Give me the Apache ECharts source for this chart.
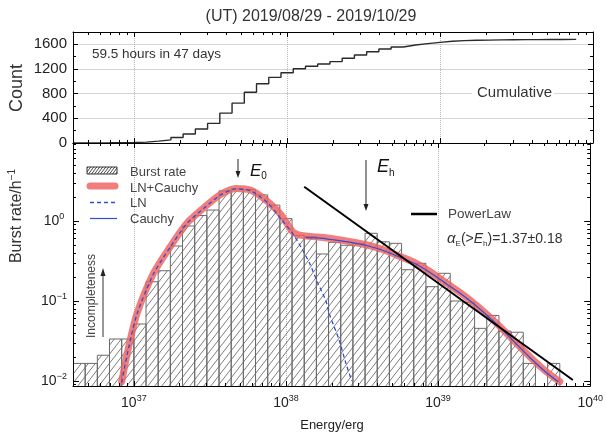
<!DOCTYPE html>
<html><head><meta charset="utf-8">
<script src="https://cdn.jsdelivr.net/npm/echarts@6/dist/echarts.min.js"></script>
<style>html,body{margin:0;padding:0;background:#fff}#c{width:606px;height:434px}</style>
</head><body><div id="c"></div>
<script>
// ---------------- data ----------------
const binEdgesLogE = [36.60,36.68,36.76,36.84,36.92,37.00,37.08,37.16,37.24,37.32,37.40,37.48,37.56,37.64,37.72,37.80,37.88,37.96,38.04,38.12,38.20,38.28,38.36,38.44,38.52,38.60,38.68,38.76,38.84,38.92,39.00,39.08,39.16,39.24,39.32,39.40,39.48,39.56,39.64,39.72,39.80];
const burstRate = [0.0166,0.0166,0.021,0.0335,0.0335, 0.0516,0.174,0.239,0.487,0.866,1.17,1.37,2.38,2.53,2.47, 2.12,1.58,1.07,0.66,0.64,0.387,0.542,0.497,0.526,0.702, 0.55,0.526,0.246,0.296,0.151,0.222,0.100,0.096,0.0455,0.066, 0.042,0.0407,0.0166,null,0.0166];
const cumulativeCount = [1,2,3,5,7, 15,30,50,88,145,226,318,485,646,824, 960,1065,1140,1205,1245,1282,1320,1374,1427,1480, 1524,1557,1589,1611,1632,1650,1660,1666,1669,1672, 1674,1676,1677,1678,1679];
const cumTailLogE = [39.80, 39.89];
const cumTailCount = [1680, 1680];

const lnCauchyLogE = [36.92,36.966,37.021,37.129,37.239,37.348,37.456,37.565,37.67,37.77,37.881,37.969,38.044,38.10,38.21,38.317,38.426,38.535,38.644,38.753,38.85,38.949,39.058,39.167,39.276,39.384,39.493,39.603,39.711,39.80];
const lnCauchyRate = [0.0098,0.0268,0.070,0.222,0.477,0.936,1.44,2.11,2.55,2.42,1.74,1.19,0.735,0.66,0.63,0.596,0.551,0.501,0.434,0.358,0.30,0.232,0.166,0.119,0.081,0.0526,0.0326,0.0201,0.0131,0.0098];
const lnLogE = [36.92,36.966,37.021,37.129,37.239,37.348,37.456,37.565,37.67,37.77,37.881,37.969,38.044,38.099,38.154,38.208,38.263,38.284,38.349,38.394,38.433];
const lnRate = [0.0096,0.0262,0.069,0.218,0.47,0.925,1.42,2.08,2.52,2.38,1.68,1.05,0.70,0.47,0.30,0.17,0.10,0.07,0.0326,0.0166,0.0100];
const cauchyLogE = [38.13,38.21,38.317,38.426,38.535,38.644,38.753,38.85,38.949,39.058,39.167,39.276,39.384,39.493,39.603,39.711,39.79];
const cauchyRate = [0.62,0.615,0.58,0.54,0.49,0.425,0.35,0.292,0.226,0.162,0.116,0.079,0.0515,0.032,0.0197,0.0128,0.0098];
const powerLawLogE = [38.12, 39.886];
const powerLawRate = [2.68, 0.0103];

const xMajor = [37, 38, 39];
const xTickExponents = [37, 38, 39, 40];
const yTickExponents = [-2, -1, 0];
const countTickLabels = [0, 400, 800, 1200, 1600];
const countGridValues = [400, 800, 1200, 1600];
const countMinorTicks = [200, 600, 1000, 1400];

// ---------------- layout constants ----------------
const FONT = '"Liberation Sans", Arial, Helvetica, sans-serif';
const X_MIN = 36.6, X_MAX = 40;
const Y_LOG_MIN = -2.0625, Y_LOG_MAX = 0.975;
const C_MAX = 1800;

const xMinor = [];
for (let d = 36; d <= 39; d++) for (let m = 2; m <= 9; m++) { const v = d + Math.log10(m); if (v > X_MIN && v < X_MAX) xMinor.push(v); }
const yMinor = [];
for (let d = -3; d <= 0; d++) for (let m = 2; m <= 9; m++) { const v = d + Math.log10(m); if (v > Y_LOG_MIN && v < Y_LOG_MAX) yMinor.push(v); }

function makeHatch(w, h, color, lw) {
  const c = document.createElement('canvas'); c.width = w; c.height = h;
  const g = c.getContext('2d');
  g.strokeStyle = color; g.lineWidth = lw;
  g.beginPath();
  g.moveTo(-w, h); g.lineTo(0, 0);
  g.moveTo(0, h); g.lineTo(w, 0);
  g.moveTo(w, h); g.lineTo(2 * w, 0);
  g.stroke();
  return c;
}
const hatch = {image: makeHatch(7, 9, '#5c5c5c', 0.8), repeat: 'repeat'};
const hatchDense = {image: makeHatch(3, 4, '#333', 0.9), repeat: 'repeat'};

// ---------------- series data ----------------
const barData = [];
burstRate.forEach((r, i) => { if (r != null) barData.push([binEdgesLogE[i], binEdgesLogE[i + 1], Math.log10(r)]); });
const cumData = cumulativeCount.map((c, i) => [binEdgesLogE[i], c]).concat(cumTailLogE.map((x, i) => [x, cumTailCount[i]]));
const toLog = (xs, ys) => xs.map((x, i) => [x, Math.log10(ys[i])]);

// ---------------- axes ----------------
function ax(o) {
  return Object.assign({
    type: 'value', z: 5,
    axisLine: {show: false, onZero: false},
    axisTick: {show: false},
    axisLabel: {show: false},
    splitLine: {show: false}
  }, o);
}
const frame = {show: true, onZero: false, lineStyle: {color: '#000', width: 1}};
const ticks = (values, len) => ({show: true, inside: true, length: len, customValues: values, lineStyle: {color: '#000', width: 1}});
const xr = {min: X_MIN, max: X_MAX};
const yr0 = {min: 0, max: C_MAX};
const yr1 = {min: Y_LOG_MIN, max: Y_LOG_MAX};
const supRich = {
  b: {fontSize: 14, lineHeight: 18, color: '#222', fontFamily: FONT},
  s: {fontSize: 9, lineHeight: 8, verticalAlign: 'top', color: '#222', fontFamily: FONT}
};

const xAxis = [
  ax(Object.assign({gridIndex: 0, position: 'bottom', axisLine: frame, axisTick: ticks(xMajor, 5)}, xr)),
  ax(Object.assign({gridIndex: 0, position: 'bottom', axisTick: ticks(xMinor, 3)}, xr)),
  ax(Object.assign({gridIndex: 0, position: 'top', axisLine: frame, axisTick: ticks(xMajor, 5)}, xr)),
  ax(Object.assign({gridIndex: 0, position: 'top', axisTick: ticks(xMinor, 3)}, xr)),
  ax(Object.assign({gridIndex: 0, position: 'bottom', z: 0, axisTick: {show: false, customValues: xMajor},
    splitLine: {show: true, lineStyle: {color: '#b5b5b5', type: 'dotted', width: 1}}}, xr)),
  ax(Object.assign({gridIndex: 1, position: 'bottom', axisLine: frame, axisTick: ticks(xMajor, 5),
    axisLabel: {show: true, customValues: xTickExponents, margin: 8,
      formatter: v => '{b|10}{s|' + v + '}', rich: supRich}}, xr)),
  ax(Object.assign({gridIndex: 1, position: 'bottom', axisTick: ticks(xMinor, 3)}, xr)),
  ax(Object.assign({gridIndex: 1, position: 'top', axisLine: frame, axisTick: ticks(xMajor, 5)}, xr)),
  ax(Object.assign({gridIndex: 1, position: 'top', axisTick: ticks(xMinor, 3)}, xr)),
  ax(Object.assign({gridIndex: 1, position: 'bottom', z: 0, axisTick: {show: false, customValues: xMajor},
    splitLine: {show: true, lineStyle: {color: '#b5b5b5', type: 'dotted', width: 1}}}, xr))
];
const yAxis = [
  ax(Object.assign({gridIndex: 0, position: 'left', axisLine: frame, axisTick: ticks(countGridValues, 5),
    axisLabel: {show: true, customValues: countTickLabels, margin: 6, fontSize: 15, color: '#222', fontFamily: FONT,
      formatter: v => String(v)}}, yr0)),
  ax(Object.assign({gridIndex: 0, position: 'left', axisTick: ticks(countMinorTicks, 3)}, yr0)),
  ax(Object.assign({gridIndex: 0, position: 'right', axisLine: frame, axisTick: ticks(countGridValues, 5)}, yr0)),
  ax(Object.assign({gridIndex: 0, position: 'right', axisTick: ticks(countMinorTicks, 3)}, yr0)),
  ax(Object.assign({gridIndex: 0, position: 'left', z: 0, axisTick: {show: false, customValues: countGridValues},
    splitLine: {show: true, lineStyle: {color: '#d6d6d6', width: 1}}}, yr0)),
  ax(Object.assign({gridIndex: 1, position: 'left', axisLine: frame, axisTick: ticks(yTickExponents, 6),
    axisLabel: {show: true, customValues: yTickExponents, margin: 19, align: 'center',
      formatter: v => '{b|10}{s|' + (v < 0 ? '\u2212' + (-v) : v) + '}', rich: supRich}}, yr1)),
  ax(Object.assign({gridIndex: 1, position: 'left', axisTick: ticks(yMinor, 3)}, yr1)),
  ax(Object.assign({gridIndex: 1, position: 'right', axisLine: frame, axisTick: ticks(yTickExponents, 6)}, yr1)),
  ax(Object.assign({gridIndex: 1, position: 'right', axisTick: ticks(yMinor, 3)}, yr1))
];

// ---------------- graphics (annotations, legend) ----------------
function txt(text, x, y, style, extra) {
  return Object.assign({type: 'text', z: 100, x: x, y: y, silent: true,
    style: Object.assign({legacy: false, text: text, fontSize: 13, fontFamily: FONT, fill: '#333', align: 'left', verticalAlign: 'middle'}, style || {})}, extra || {});
}
function seg(x1, y1, x2, y2, style) {
  return {type: 'line', z: 100, silent: true, shape: {x1, y1, x2, y2}, style: Object.assign({stroke: '#222', lineWidth: 1}, style || {})};
}
function head(points) {
  return {type: 'polygon', z: 100, silent: true, shape: {points}, style: {fill: '#222'}};
}
const RED = 'rgba(238,96,96,0.82)';
const BLUE = '#2f4fd0';
const graphic = [
  txt('(UT) 2019/08/29 - 2019/10/29', 311, 17, {fontSize: 16, align: 'center', fill: '#333'}),
  txt('Count', 17, 88, {fontSize: 18, align: 'center', fill: '#333'}, {rotation: Math.PI / 2}),
  txt('{a|Burst rate/h}{s|\u22121}', 17, 216, {align: 'center', rich: {
    a: {fontSize: 16, lineHeight: 20, fontFamily: FONT, fill: '#333'},
    s: {fontSize: 10, lineHeight: 10, verticalAlign: 'top', fontFamily: FONT, fill: '#333'}}}, {rotation: Math.PI / 2}),
  txt('Energy/erg', 332, 425, {fontSize: 13, align: 'center', fill: '#222'}),
  txt('59.5 hours in 47 days', 92, 54, {fontSize: 13.5, fill: '#333'}),
  txt('Cumulative', 472, 93, {fontSize: 15, fill: '#333', backgroundColor: '#fff', padding: [2, 2, 2, 5]}),
  // legend (left)
  {type: 'rect', z: 100, silent: true, shape: {x: 87, y: 167, width: 30, height: 7}, style: {fill: hatchDense, stroke: '#333', lineWidth: 1}},
  txt('Burst rate', 130, 172, {fill: '#444'}),
  seg(90, 186, 115, 186, {stroke: RED, lineWidth: 7, lineCap: 'round'}),
  txt('LN+Cauchy', 130, 188, {fill: '#444'}),
  seg(90, 202.5, 117, 202.5, {stroke: BLUE, lineWidth: 1.3, lineDash: [4, 3]}),
  txt('LN', 130, 203, {fill: '#444'}),
  seg(90, 218.5, 117, 218.5, {stroke: BLUE, lineWidth: 1.2}),
  txt('Cauchy', 130, 219, {fill: '#444'}),
  // legend (right)
  seg(411, 214, 437, 214, {stroke: '#000', lineWidth: 2.5}),
  txt('PowerLaw', 448, 214, {fontSize: 13.5, fill: '#444'}),
  txt('{a|\u03b1}{sub|E}{t|(>}{e|E}{sub|h}{t|)=1.37\u00b10.18}', 447, 239, {rich: {
    a: {fontSize: 15, lineHeight: 18, fontStyle: 'italic', fontFamily: FONT, fill: '#333'},
    sub: {fontSize: 8, lineHeight: 8, verticalAlign: 'bottom', fontFamily: FONT, fill: '#333'},
    t: {fontSize: 14, lineHeight: 18, fontFamily: FONT, fill: '#333'},
    e: {fontSize: 14, lineHeight: 18, fontStyle: 'italic', fontFamily: FONT, fill: '#333'}}}),
  // E0 and Eh markers
  seg(238, 159, 238, 172),
  head([[235.5, 171], [240.5, 171], [238, 178]]),
  txt('{e|E}{s|0}', 250, 171, {rich: {
    e: {fontSize: 17, lineHeight: 20, fontStyle: 'italic', fontFamily: FONT, fill: '#111'},
    s: {fontSize: 10, lineHeight: 11, verticalAlign: 'bottom', fontFamily: FONT, fill: '#111'}}}),
  seg(366, 160, 366, 205),
  head([[363.5, 204], [368.5, 204], [366, 211]]),
  txt('{e|E}{s|h}', 377, 167, {rich: {
    e: {fontSize: 18, lineHeight: 22, fontStyle: 'italic', fontFamily: FONT, fill: '#111'},
    s: {fontSize: 10, lineHeight: 8, verticalAlign: 'bottom', fontFamily: FONT, fill: '#111'}}}),
  // incompleteness
  txt('Incompleteness', 92, 296, {fontSize: 12, align: 'center', fill: '#444'}, {rotation: Math.PI / 2}),
  seg(103, 337, 103, 275, {stroke: '#333'}),
  head([[100.5, 276], [105.5, 276], [103, 268]])
];

// ---------------- chart ----------------
const chart = echarts.init(document.getElementById('c'), null, {renderer: 'canvas'});
chart.setOption({
  animation: false,
  backgroundColor: '#fff',
  textStyle: {fontFamily: FONT},
  grid: [
    {left: 73, right: 13, top: 32, height: 111},
    {left: 73, right: 13, top: 143, height: 243}
  ],
  xAxis: xAxis,
  yAxis: yAxis,
  graphic: graphic,
  series: [
    {type: 'line', name: 'Cumulative', xAxisIndex: 0, yAxisIndex: 0, data: cumData, step: 'end',
      showSymbol: false, lineStyle: {color: '#2a2a2a', width: 1.4}, z: 3},
    {type: 'custom', name: 'Burst rate', xAxisIndex: 5, yAxisIndex: 5, data: barData, clip: true,
      encode: {x: [0, 1], y: 2}, z: 2,
      renderItem: function (params, api) {
        const top = api.coord([api.value(0), api.value(2)]);
        const bot = api.coord([api.value(1), Y_LOG_MIN]);
        const l = top[0], r = bot[0], t = top[1], b = bot[1];
        return {type: 'group', children: [
          {type: 'rect', shape: {x: l, y: t, width: r - l, height: b - t}, style: {fill: hatch}},
          {type: 'polyline', shape: {points: [[l, b], [l, t], [r, t], [r, b]]}, style: {stroke: '#6a6a6a', lineWidth: 1, fill: null}}
        ]};
      }},
    {type: 'line', name: 'LN+Cauchy', xAxisIndex: 5, yAxisIndex: 5, data: toLog(lnCauchyLogE, lnCauchyRate),
      smooth: 0.25, showSymbol: false, lineStyle: {color: RED, width: 7, cap: 'round', join: 'round'}, z: 3},
    {type: 'line', name: 'LN', xAxisIndex: 5, yAxisIndex: 5, data: toLog(lnLogE, lnRate),
      smooth: 0.25, showSymbol: false, lineStyle: {color: BLUE, width: 1.3, type: [4, 3]}, z: 4},
    {type: 'line', name: 'Cauchy', xAxisIndex: 5, yAxisIndex: 5, data: toLog(cauchyLogE, cauchyRate),
      smooth: 0.25, showSymbol: false, lineStyle: {color: BLUE, width: 1.2}, z: 4},
    {type: 'line', name: 'PowerLaw', xAxisIndex: 5, yAxisIndex: 5, data: toLog(powerLawLogE, powerLawRate),
      showSymbol: false, lineStyle: {color: '#000', width: 2}, z: 4}
  ]
});
</script>
</body></html>
